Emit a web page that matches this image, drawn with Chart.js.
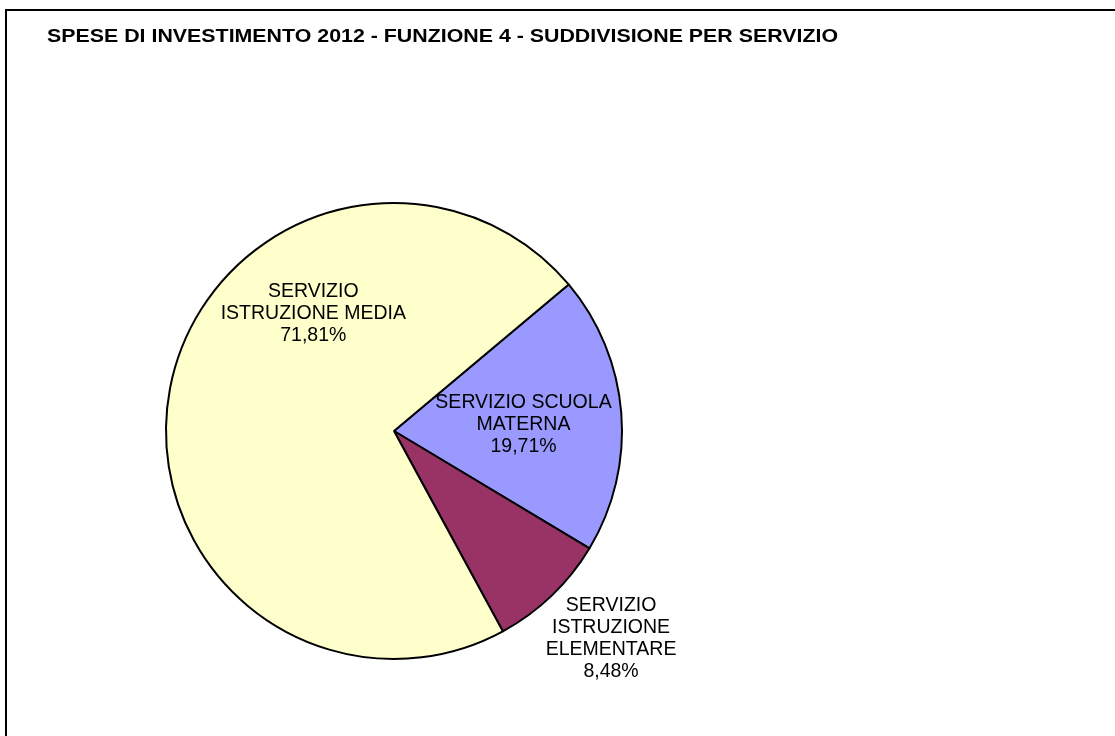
<!DOCTYPE html>
<html>
<head>
<meta charset="utf-8">
<script src="https://cdn.jsdelivr.net/npm/chart.js@4"></script>
<style>
  html, body { margin: 0; padding: 0; background: #fff; }
  #wrap { position: relative; width: 1115px; height: 736px; }
</style>
</head>
<body>
<div id="wrap"><canvas id="pieChart" width="1115" height="736"></canvas></div>
<script>
// Chart data
const chartTitle = 'SPESE DI INVESTIMENTO 2012 - FUNZIONE 4 - SUDDIVISIONE PER SERVIZIO';
const categories = [
    ['SERVIZIO SCUOLA', 'MATERNA'],
    ['SERVIZIO', 'ISTRUZIONE', 'ELEMENTARE'],
    ['SERVIZIO', 'ISTRUZIONE MEDIA']
];
const shares = [19.71, 8.48, 71.81];
const sliceColors = ['#9999FF', '#993366', '#FFFFCC'];

// Label anchors relative to pie centre, in units of radius
const labelAnchors = [[0.568, -0.037], [0.952, 0.902], [-0.354, -0.522]];

const formatPct = v => v.toFixed(2).replace('.', ',') + '%';

// Frame, title and slice labels
const decorPlugin = {
    id: 'decor',
    beforeDraw(chart) {
        const ctx = chart.ctx;
        ctx.save();
        ctx.fillStyle = '#fff';
        ctx.fillRect(0, 0, chart.width, chart.height);
        ctx.strokeStyle = '#000';
        ctx.lineWidth = 2;
        ctx.beginPath();
        ctx.moveTo(6, chart.height + 5);
        ctx.lineTo(6, 10);
        ctx.lineTo(chart.width + 5, 10);
        ctx.stroke();
        // title is drawn a bit wider than the font, like the original
        ctx.fillStyle = '#000';
        ctx.font = 'bold 18px "Liberation Sans", Arial, sans-serif';
        ctx.textBaseline = 'alphabetic';
        ctx.textAlign = 'left';
        const w = ctx.measureText(chartTitle).width;
        ctx.translate(47, 42);
        ctx.scale(791 / w, 1);
        ctx.fillText(chartTitle, 0, 0);
        ctx.restore();
    },
    afterDatasetsDraw(chart) {
        const ctx = chart.ctx;
        const meta = chart.getDatasetMeta(0);
        ctx.save();
        ctx.fillStyle = '#000';
        ctx.font = '19.5px "Liberation Sans", Arial, sans-serif';
        ctx.textAlign = 'center';
        ctx.textBaseline = 'alphabetic';
        meta.data.forEach((arc, i) => {
            const r = arc.outerRadius;
            const cx = arc.x + labelAnchors[i][0] * r;
            const cy = arc.y + labelAnchors[i][1] * r;
            const lines = categories[i].concat([formatPct(shares[i])]);
            const lh = 22;
            lines.forEach((line, j) => {
                const y = cy + (j - (lines.length - 1) / 2) * lh + 7;
                ctx.fillText(line, cx, y);
            });
        });
        ctx.restore();
    }
};

const pieCtx = document.getElementById('pieChart').getContext('2d');
const pieChart = new Chart(pieCtx, {
    type: 'pie',
    data: {
        labels: categories.map(c => c.join(' ')),
        datasets: [{
            data: shares,
            backgroundColor: sliceColors,
            borderColor: '#000',
            borderWidth: 2
        }]
    },
    options: {
        responsive: false,
        animation: false,
        rotation: 50,
        layout: {
            padding: { left: 165, right: 492, top: 202, bottom: 76 }
        },
        plugins: {
            legend: { display: false },
            title: { display: false },
            tooltip: { enabled: false }
        }
    },
    plugins: [decorPlugin]
});
</script>
</body>
</html>
